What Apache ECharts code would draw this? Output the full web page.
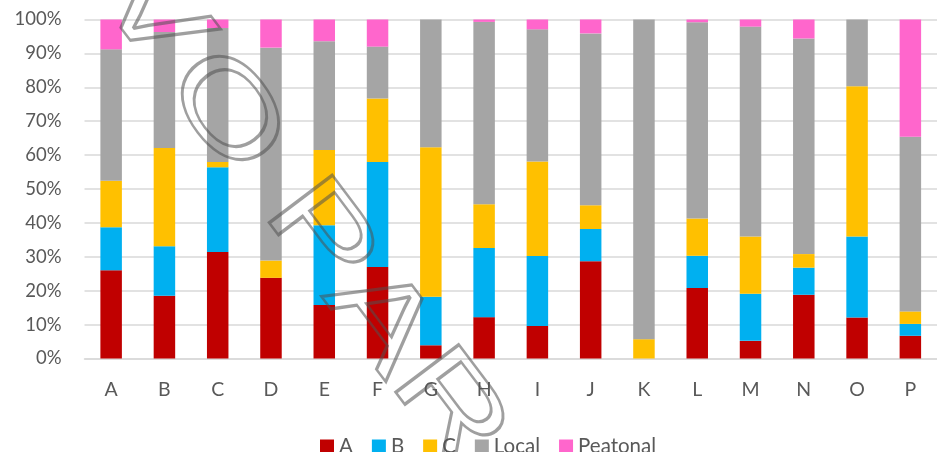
<!DOCTYPE html>
<html>
<head>
<meta charset="utf-8">
<script src="https://cdn.jsdelivr.net/npm/echarts@6/dist/echarts.min.js"></script>
<style>
html,body{margin:0;padding:0;background:#fff;}
#chart{width:937px;height:452px;}
</style>
</head>
<body>
<div id="chart"></div>
<script>
var categories = ['A','B','C','D','E','F','G','H','I','J','K','L','M','N','O','P'];
var seriesNames = ['A','B','C','Local','Peatonal'];
var valuesA        = [26.0,18.5,31.4,23.8,15.8,27.0, 3.9,12.2, 9.6,28.7, 0.0,20.8, 5.2,18.8,12.1, 6.7];
var valuesB        = [12.7,14.6,25.0, 0.0,23.5,31.0,14.3,20.4,20.6, 9.5, 0.0, 9.5,13.9, 8.0,23.9, 3.5];
var valuesC        = [13.7,29.0, 1.6, 5.1,22.2,18.7,44.1,12.9,27.9, 7.0, 5.7,11.0,16.9, 4.0,44.3, 3.7];
var valuesLocal    = [38.8,34.2,39.5,62.8,32.1,15.3,37.7,53.8,39.0,50.7,94.3,57.9,61.9,63.6,19.7,51.5];
var valuesPeatonal = [ 8.8, 3.7, 2.5, 8.3, 6.4, 8.0, 0.0, 0.7, 2.9, 4.1, 0.0, 0.8, 2.1, 5.6, 0.0,34.6];
var colors = ['#C00000','#00B0F0','#FFC000','#A5A5A5','#FF66CC'];
var allValues = [valuesA, valuesB, valuesC, valuesLocal, valuesPeatonal];

// watermark letters (decoration, not data)
var wmLetters = ['V','O','P','A','R'];
var wmX = [151, 224, 319, 379, 448];
var wmY = [15, 113, 236, 320, 409];

var FONT = 'Lato, Open Sans, sans-serif';
var chart = echarts.init(document.getElementById('chart'), null, {renderer:'canvas'});
var series = seriesNames.map(function(name, i){
  return {
    name: name,
    type: 'bar',
    stack: 'total',
    barWidth: 21.5,
    itemStyle: {color: colors[i]},
    data: allValues[i]
  };
});
var graphics = wmLetters.map(function(ch, i){
  return {
    type: 'text',
    x: wmX[i], y: wmY[i],
    rotation: -53 * Math.PI / 180,
    scaleX: 1.4,
    z: 100,
    silent: true,
    style: {
      text: ch,
      fontSize: 115,
      fontFamily: 'Liberation Sans, Arial, sans-serif',
      fill: 'none',
      stroke: 'rgba(80,80,80,0.55)',
      lineWidth: 2.5,
      textAlign: 'center',
      textVerticalAlign: 'middle'
    }
  };
});
chart.setOption({
  animation: false,
  backgroundColor: '#ffffff',
  color: colors,
  grid: {left: 84.5, right: -12.5, top: 19.5, bottom: 93.5},
  legend: {
    left: 315, top: 431,
    itemWidth: 14, itemHeight: 14, itemGap: 19,
    icon: 'rect',
    textStyle: {color: '#595959', fontSize: 20.5, fontFamily: FONT},
    data: seriesNames
  },
  xAxis: {
    type: 'category',
    data: categories,
    axisLine: {lineStyle: {color: '#d9d9d9', width: 1.5}},
    axisTick: {show: false},
    axisLabel: {color: '#595959', fontSize: 19.5, margin: 21, fontFamily: FONT}
  },
  yAxis: {
    type: 'value',
    min: 0, max: 100, interval: 10,
    axisLine: {show: false},
    axisTick: {show: false},
    splitLine: {lineStyle: {color: '#d9d9d9', width: 1.5}},
    axisLabel: {formatter: '{value}%', color: '#595959', fontSize: 18.5, margin: 23, fontFamily: FONT}
  },
  graphic: graphics,
  series: series
});
</script>
</body>
</html>
